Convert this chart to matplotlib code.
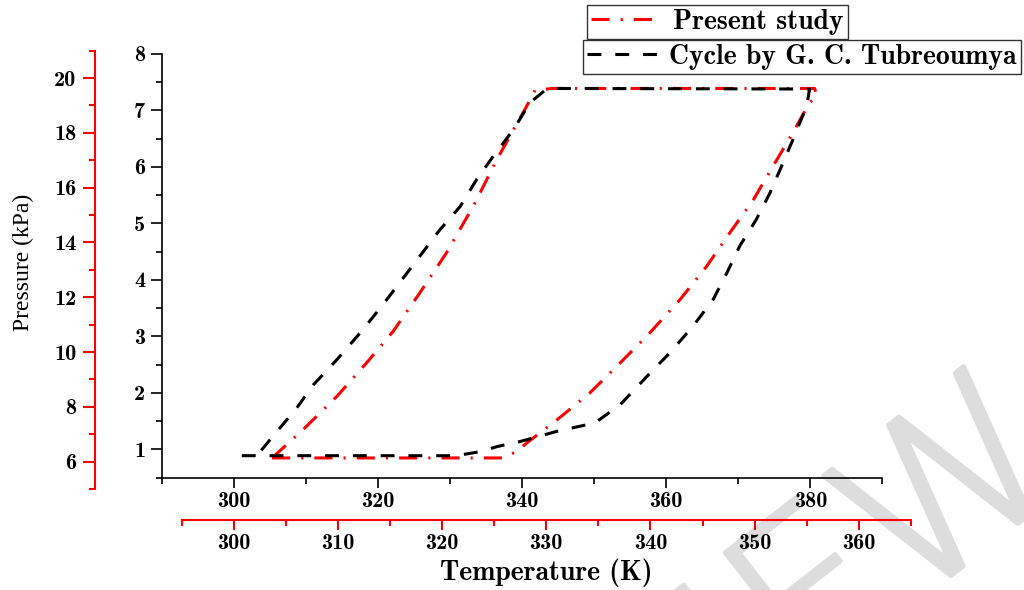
import matplotlib
matplotlib.use("Agg")
import matplotlib.pyplot as plt
import matplotlib.patheffects as pe
from matplotlib.ticker import MultipleLocator

present_T = [305.3, 337.3, 339.2, 340.6, 344.8, 349.4, 353.6, 357.7, 361.9, 365.6,
             368.8, 372.1, 374.8, 377.6, 379.9, 380.9, 380.6, 344.3, 341.8, 340.4,
             338.8, 336.5, 333.2, 329.5, 325.8, 322.1, 318.4, 314.3, 309.6, 305.3]
present_P = [0.85, 0.85, 0.96, 1.11, 1.52, 2.00, 2.53, 3.06, 3.65, 4.24,
             4.83, 5.42, 6.01, 6.61, 7.14, 7.25, 7.39, 7.39, 7.36, 7.02,
             6.66, 6.13, 5.30, 4.48, 3.77, 3.09, 2.53, 1.94, 1.35, 0.85]

ref_T = [301.1, 330.9, 334.1, 336.5, 339.7, 344.8, 350.1, 353.6, 357.3, 360.5,
         363.7, 366.5, 368.4, 370.2, 372.5, 374.4, 376.2, 377.6, 379.5, 379.9,
         343.5, 341.1, 338.8, 336.0, 333.7, 331.4, 328.6, 325.8, 323.0, 320.3,
         317.5, 314.3, 311.0, 308.7, 305.0, 303.2]
ref_P = [0.89, 0.89, 0.96, 1.05, 1.14, 1.32, 1.47, 1.79, 2.29, 2.71,
         3.18, 3.65, 4.12, 4.60, 5.07, 5.54, 6.07, 6.49, 7.08, 7.38,
         7.39, 7.14, 6.66, 6.19, 5.78, 5.30, 4.89, 4.42, 3.95, 3.50,
         3.06, 2.59, 2.14, 1.73, 1.17, 0.89]

labels = ["Present study", "Cycle by G. C. Tubreoumya"]

plt.rcParams['font.family'] = ['cmb10', 'DejaVu Serif']
plt.rcParams['lines.scale_dashes'] = False

fig = plt.figure(figsize=(10.24, 5.9), dpi=100)

# watermark behind everything
wm = fig.text(0.64, -0.239, "PREVIEW", rotation=38, ha='center', va='center',
              rotation_mode='anchor', fontsize=155, color='#dddddd',
              family='DejaVu Sans', fontweight='ultralight', zorder=-5)
wm.set_path_effects([pe.withStroke(linewidth=3.5, foreground='#dddddd',
                                   joinstyle='round', capstyle='round')])

ax = fig.add_axes([0.158, 0.1903, 0.7037, 0.7182])
ax.patch.set_alpha(0)
ax.set_xlim(290, 390)
ax.set_ylim(0.5, 8)
for s in ['top', 'right']:
    ax.spines[s].set_visible(False)
for s in ['left', 'bottom']:
    ax.spines[s].set_linewidth(1.2)
ax.xaxis.set_major_locator(MultipleLocator(20))
ax.xaxis.set_minor_locator(MultipleLocator(10))
ax.yaxis.set_major_locator(MultipleLocator(1))
ax.yaxis.set_minor_locator(MultipleLocator(0.5))
ax.tick_params(which='major', length=8, width=1.2, labelsize=16, pad=4)
ax.tick_params(which='minor', length=4.5, width=1.2)
ax.tick_params(axis='x', which='major', length=7, pad=3)

l1, = ax.plot(present_T, present_P, color='red', lw=2.2,
              dashes=(13, 8, 1.5, 8))
l2, = ax.plot(ref_T, ref_P, color='black', lw=2.2, dashes=(10, 10))

# red outer temperature axis
axx = fig.add_axes([0.1774, 0.1186, 0.7122, 0.0001])
axx.patch.set_alpha(0)
axx.set_xlim(295, 365)
for s in ['top', 'right', 'left']:
    axx.spines[s].set_visible(False)
axx.spines['bottom'].set_color('red')
axx.spines['bottom'].set_linewidth(1.5)
axx.set_yticks([])
axx.xaxis.set_major_locator(MultipleLocator(10))
axx.xaxis.set_minor_locator(MultipleLocator(5))
axx.tick_params(which='major', length=7, width=1.5, color='red', labelsize=16, pad=3)
axx.tick_params(which='minor', length=4, width=1.5, color='red')

# red outer pressure axis
axy = fig.add_axes([0.0928, 0.1712, 0.0001, 0.7429])
axy.patch.set_alpha(0)
axy.set_ylim(5, 21)
for s in ['top', 'right', 'bottom']:
    axy.spines[s].set_visible(False)
axy.spines['left'].set_color('red')
axy.spines['left'].set_linewidth(1.5)
axy.set_xticks([])
axy.yaxis.set_major_locator(MultipleLocator(2))
axy.yaxis.set_minor_locator(MultipleLocator(1))
axy.tick_params(which='major', length=8.5, width=1.5, color='red', labelsize=16, pad=5)
axy.tick_params(which='minor', length=4.5, width=1.5, color='red')

fig.text(0.0225, 0.555, "Pressure (kPa)", rotation=90, ha='center', va='center',
         family='Liberation Serif', fontsize=17)
fig.text(0.533, 0.0288, "Temperature (K)", ha='center', va='center', fontsize=20)

leg_kw = dict(prop={'family': 'cmb10', 'size': 20}, frameon=True, fancybox=False,
              framealpha=1, edgecolor='#333333', loc='upper left',
              bbox_transform=fig.transFigure, borderaxespad=0, borderpad=0.15,
              handlelength=2.5, handletextpad=0.45)
leg1 = ax.legend([l1], [labels[0]], bbox_to_anchor=(0.5732, 0.9915), **leg_kw)
leg1.get_frame().set_linewidth(1.0)
ax.add_artist(leg1)
leg2 = ax.legend([l2], [labels[1]], bbox_to_anchor=(0.5693, 0.9322), **leg_kw)
leg2.get_frame().set_linewidth(1.0)

fig.savefig("out.png", dpi=100)
